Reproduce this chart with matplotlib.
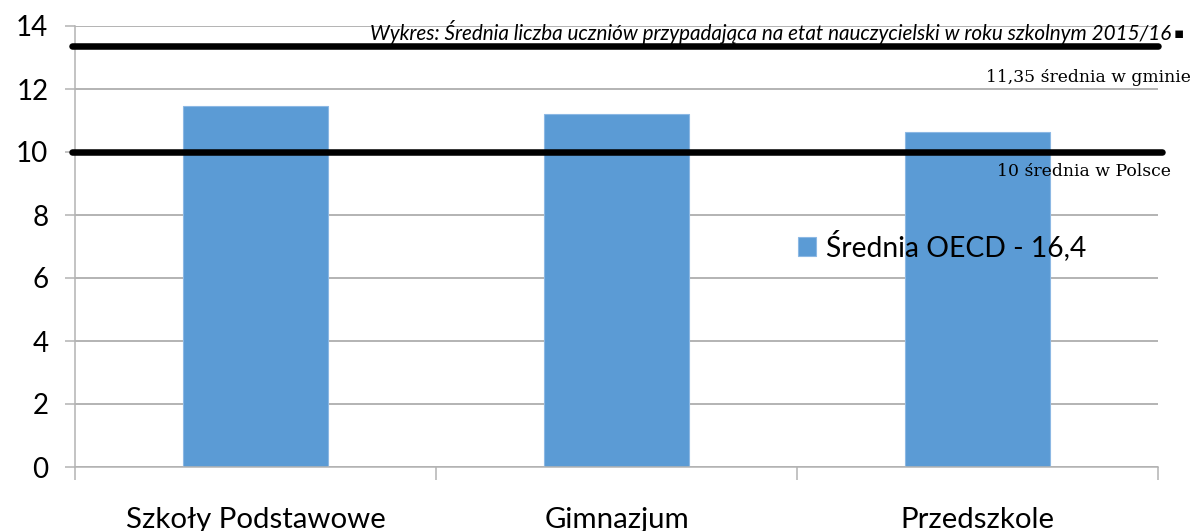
import matplotlib
matplotlib.use("Agg")
import matplotlib.pyplot as plt
import numpy as np

# ---- data ----
categories = ["Szkoły Podstawowe", "Gimnazjum", "Przedszkole"]
values = [11.46, 11.21, 10.64]
legend_label = "Średnia OECD - 16,4"
line_gmina = 13.36          # drawn position of the "11,35" line in the original
line_polska = 10.0
label_gmina = "11,35 średnia w gminie"
label_polska = "10 średnia w Polsce"
title = "Wykres: Średnia liczba uczniów przypadająca na etat nauczycielski w roku szkolnym 2015/16"
yticks = [0, 2, 4, 6, 8, 10, 12, 14]

W, H = 1195, 531
fig = plt.figure(figsize=(W / 100, H / 100), dpi=100)
sans = ["Lato", "DejaVu Sans"]
serif = ["DejaVu Serif"]

def px(x, y):
    return (x / W, 1 - y / H)

ax = fig.add_axes([75 / W, (H - 467) / H, (1158 - 75) / W, (467 - 26) / H])
grey = "#b3b3b3"
blue = "#5b9bd5"

x = np.arange(len(categories))
bars = ax.bar(x, values, width=0.4, color=blue, edgecolor="#8cb8e4", linewidth=0.8,
              zorder=2, label=legend_label)

ax.set_xlim(-0.5, len(categories) - 0.5)
ax.set_ylim(0, 14)
ax.set_yticks(yticks)
ax.set_yticklabels([str(v) for v in yticks], family=sans, fontsize=20)
ax.yaxis.grid(True, color=grey, linewidth=1.4, zorder=0)
ax.set_axisbelow(True)
ax.tick_params(axis="y", length=7.2, width=1.1, color=grey, pad=12, direction="out")

ax.set_xticks(x)
xl = ax.set_xticklabels(categories, family=sans, fontsize=20)
ax.set_xticks(np.arange(-0.5, len(categories)), minor=True)
ax.tick_params(axis="x", which="major", length=0, pad=29)
ax.tick_params(axis="x", which="minor", length=9, width=1.1, color=grey, direction="out")

for s in ["top", "right"]:
    ax.spines[s].set_visible(False)
for s in ["left", "bottom"]:
    ax.spines[s].set_color(grey)
    ax.spines[s].set_linewidth(1.1)

# horizontal reference lines
for yv, xmax in [(line_gmina, 1.0), (line_polska, 1.004)]:
    ax.plot([-0.5 - 0.008, -0.5 + 3 * xmax], [yv, yv], color="black", linewidth=4.7,
            solid_capstyle="round", zorder=3, clip_on=False)

# legend
leg = ax.legend(handles=[bars], labels=[legend_label], loc="center left",
                bbox_to_anchor=px(798, 246), bbox_transform=fig.transFigure,
                frameon=False, prop={"family": sans, "size": 20},
                handlelength=0.65, handleheight=0.65, handletextpad=0.35,
                borderpad=0, borderaxespad=0)
leg.set_zorder(5)

# texts
t_title = fig.text(*px(370, 32), title, family=sans, style="italic", fontsize=13,
                   ha="left", va="center", zorder=6)
t_g = fig.text(*px(986, 77), label_gmina, family=serif, fontsize=11, ha="left", va="center")
t_p = fig.text(*px(997, 171), label_polska, family=serif, fontsize=11, ha="left", va="center")

r = fig.canvas.get_renderer()

def fit(t, target):
    w = t.get_window_extent(r).width
    t.set_fontsize(t.get_fontsize() * target / w)

fit(t_title, 1168 - 370)
fit(t_g, 1190 - 986)
fit(t_p, 1170 - 997)
# x labels
w0 = xl[0].get_window_extent(r).width
xs = 20 * 259 / w0
for t in xl:
    t.set_fontsize(xs)
lt = leg.get_texts()[0]
wl = lt.get_window_extent(r).width
lt.set_fontsize(20 * (1087 - 826) / wl)

bb = t_title.get_window_extent(r)
fig.text((bb.x1 + 2) / W, 1 - 34 / H, "▪", family=["DejaVu Sans"], fontsize=11,
         fontweight="bold", ha="left", va="center")

fig.savefig("out.png", dpi=100)
